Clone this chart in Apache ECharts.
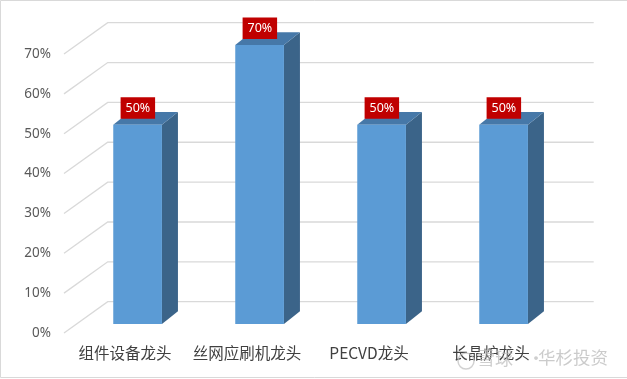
<!DOCTYPE html>
<html>
<head>
<meta charset="utf-8">
<script src="https://cdn.jsdelivr.net/npm/echarts@6/dist/echarts.min.js"></script>
<style>
html,body{margin:0;padding:0;background:#fff;}
#chart{width:627px;height:379px;}
</style>
</head>
<body>
<div id="chart"></div>
<script>
var categories = ['组件设备龙头', '丝网应刷机龙头', 'PECVD龙头', '长晶炉龙头'];
var values = [0.5, 0.7, 0.5, 0.5];
var tickValues = [0, 0.1, 0.2, 0.3, 0.4, 0.5, 0.6, 0.7];

// perspective offsets (front plane -> other planes)
var WALL_DX = 43.7, WALL_DY = -31.3;
var BAR_DX = 12.6, BAR_DY = -9;
var DEPTH_DX = 16, DEPTH_DY = -12.7;
var BAR_W = 48.7;

var chart = echarts.init(document.getElementById('chart'));

var option = {
  backgroundColor: '#ffffff',
  animation: false,
  grid: {left: 64, top: 54, width: 488, height: 279},
  xAxis: {
    type: 'category',
    data: categories,
    axisLine: {show: false},
    axisTick: {show: false},
    axisLabel: {
      interval: 0,
      margin: 12,
      fontSize: 15.5,
      color: '#404040',
      fontFamily: 'Noto Sans CJK SC'
    }
  },
  yAxis: {
    type: 'value',
    min: 0,
    max: 0.7,
    interval: 0.1,
    axisLine: {show: false},
    axisTick: {show: false},
    splitLine: {show: false},
    axisLabel: {
      margin: 13,
      fontSize: 13.5,
      color: '#595959',
      fontFamily: 'Noto Sans',
      formatter: function (v) { return Math.round(v * 100) + '%'; }
    }
  },
  graphic: [
    {type: 'rect', shape: {x: 0.5, y: 0.5, width: 640, height: 377}, style: {fill: 'none', stroke: '#d9d9d9', lineWidth: 1}, silent: true},
    {type: 'circle', shape: {cx: 466, cy: 361, r: 8}, style: {fill: 'none', stroke: 'rgba(190,190,190,0.7)', lineWidth: 1.5}, z: 10},
    {type: 'text', left: 477, top: 349, style: {text: '雪球', fontSize: 18, fill: 'rgba(185,185,185,0.7)', fontFamily: 'Noto Sans CJK SC'}, z: 10},
    {type: 'text', left: 527, top: 349, style: {text: '·', fontSize: 18, fill: 'rgba(185,185,185,0.7)', fontFamily: 'Noto Sans CJK SC'}, z: 10},
    {type: 'text', left: 538, top: 349, style: {text: '华杉投资', fontSize: 17.5, fill: 'rgba(185,185,185,0.75)', fontFamily: 'Noto Sans CJK SC'}, z: 10}
  ],
  series: [
    {
      type: 'custom',
      name: 'grid',
      silent: true,
      z: 1,
      data: tickValues.map(function (v) { return [0, v]; }),
      renderItem: function (params, api) {
        var cs = params.coordSys;
        var y = api.coord([0, api.value(1)])[1];
        var x0 = cs.x, x1 = cs.x + WALL_DX, x2 = cs.x + cs.width + WALL_DX - 2;
        return {
          type: 'polyline',
          shape: {points: [[x0, y], [x1, y + WALL_DY], [x2, y + WALL_DY]]},
          style: {stroke: '#d9d9d9', lineWidth: 1.3, fill: 'none'}
        };
      }
    },
    {
      type: 'custom',
      name: 'bars',
      z: 2,
      data: values.map(function (v, i) { return [i, v]; }),
      renderItem: function (params, api) {
        var i = api.value(0), v = api.value(1);
        var top = api.coord([i, v]);
        var base = api.coord([i, 0]);
        var cx = top[0] + BAR_DX;
        var xl = cx - BAR_W / 2, xr = cx + BAR_W / 2;
        var yt = top[1] + BAR_DY, yb = base[1] + BAR_DY;
        var label = Math.round(v * 100) + '%';
        return {
          type: 'group',
          children: [
            {type: 'polygon', shape: {points: [[xr, yt], [xr + DEPTH_DX, yt + DEPTH_DY], [xr + DEPTH_DX, yb + DEPTH_DY], [xr, yb]]}, style: {fill: '#3b6489'}},
            {type: 'polygon', shape: {points: [[xl, yt], [xl + DEPTH_DX, yt + DEPTH_DY], [xr + DEPTH_DX, yt + DEPTH_DY], [xr, yt]]}, style: {fill: '#4678a8'}},
            {type: 'rect', shape: {x: xl, y: yt, width: BAR_W, height: yb - yt}, style: {fill: '#5b9bd5'}},
            {type: 'rect', shape: {x: cx - 17, y: yt - 27.5, width: 34.5, height: 21.6}, style: {fill: '#c00000'}},
            {type: 'text', style: {text: label, x: cx + 0.3, y: yt - 16.5, align: 'center', verticalAlign: 'middle', fontSize: 12.5, fill: '#ffffff', fontFamily: 'Noto Sans'}}
          ]
        };
      }
    }
  ]
};
chart.setOption(option);
</script>
</body>
</html>
